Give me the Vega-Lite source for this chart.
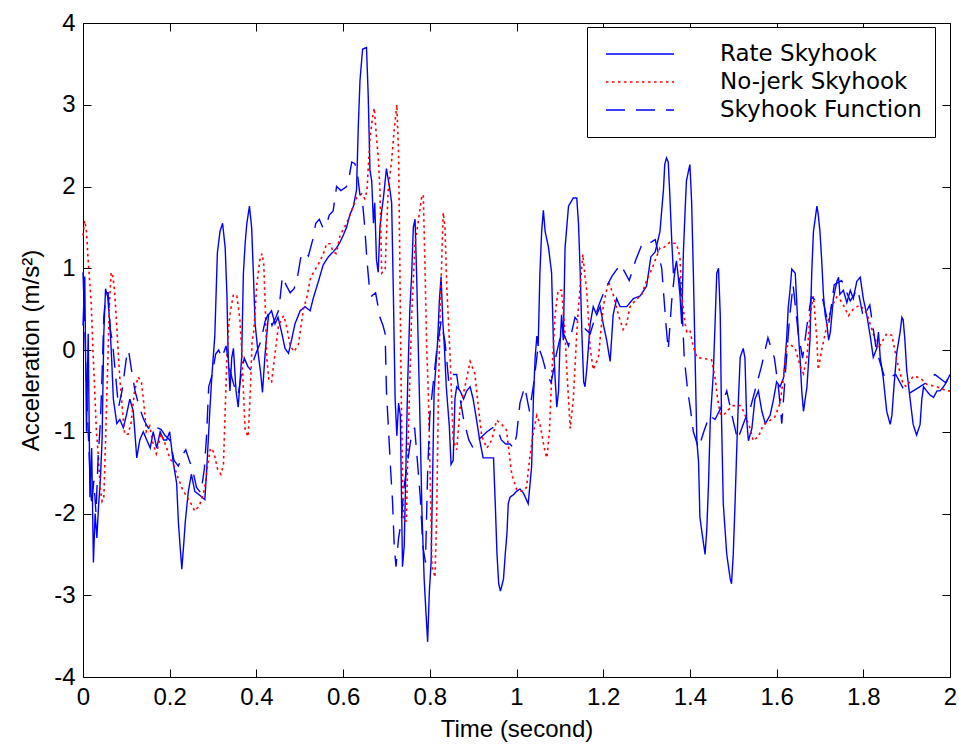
{
"$schema":"https://vega.github.io/schema/vega-lite/v6.json",
"width":867,"height":654,
"autosize":{"type":"none"},
"padding":{"left":83,"top":23,"right":9,"bottom":71},
"background":"white",
"config":{
 "view":{"stroke":"#000","strokeWidth":1},
 "axis":{"grid":false,"labelFont":"Liberation Sans","titleFont":"Liberation Sans","labelFontSize":24,"titleFontSize":24,"titleFontWeight":"normal","labelColor":"#000","titleColor":"#000","tickColor":"#000","domainColor":"#000","tickSize":-8,"labelPadding":16,"labelFlush":false,"labelOverlap":false},
 "legend":{"orient":"none","legendX":504,"legendY":4,"strokeColor":"#000","fillColor":"#fff","padding":13,"symbolType":"stroke","symbolSize":4624,"clipHeight":28,"labelFont":"DejaVu Sans","labelFontSize":23,"labelColor":"#000","labelOffset":45,"rowPadding":0,"symbolStrokeWidth":1.5,"symbolOffset":5,"labelLimit":500}
},
"datasets":{
"rate":[{"t":0,"v":0.3},{"t":0.004,"v":0.9},{"t":0.008,"v":-1.0},{"t":0.012,"v":0.2},{"t":0.016,"v":-1.8},{"t":0.02,"v":-1.2},{"t":0.024,"v":-2.6},{"t":0.028,"v":-2.0},{"t":0.032,"v":-2.3},{"t":0.036,"v":-1.9},{"t":0.04,"v":-1.6},{"t":0.044,"v":-1.1},{"t":0.048,"v":0.2},{"t":0.052,"v":0.75},{"t":0.057,"v":0.65},{"t":0.062,"v":0.32},{"t":0.066,"v":-0.1},{"t":0.07,"v":-0.6},{"t":0.074,"v":-0.75},{"t":0.078,"v":-0.9},{"t":0.085,"v":-0.85},{"t":0.093,"v":-0.95},{"t":0.1,"v":-0.8},{"t":0.108,"v":-0.6},{"t":0.116,"v":-0.75},{"t":0.124,"v":-1.32},{"t":0.131,"v":-1.1},{"t":0.139,"v":-1.0},{"t":0.147,"v":-1.1},{"t":0.155,"v":-1.2},{"t":0.162,"v":-1.0},{"t":0.17,"v":-1.2},{"t":0.178,"v":-1.0},{"t":0.186,"v":-1.1},{"t":0.193,"v":-1.1},{"t":0.2,"v":-1.0},{"t":0.208,"v":-1.37},{"t":0.216,"v":-1.63},{"t":0.22,"v":-2.1},{"t":0.224,"v":-2.4},{"t":0.228,"v":-2.68},{"t":0.232,"v":-2.4},{"t":0.236,"v":-2.1},{"t":0.243,"v":-1.73},{"t":0.25,"v":-1.52},{"t":0.258,"v":-1.73},{"t":0.27,"v":-1.78},{"t":0.281,"v":-1.83},{"t":0.285,"v":-1.5},{"t":0.289,"v":-1.1},{"t":0.293,"v":-0.7},{"t":0.297,"v":-0.34},{"t":0.304,"v":0.17},{"t":0.31,"v":1.19},{"t":0.316,"v":1.45},{"t":0.322,"v":1.55},{"t":0.328,"v":1.25},{"t":0.332,"v":0.68},{"t":0.335,"v":-0.09},{"t":0.339,"v":-0.5},{"t":0.343,"v":-0.1},{"t":0.347,"v":0.02},{"t":0.353,"v":-0.5},{"t":0.358,"v":-0.7},{"t":0.362,"v":-0.4},{"t":0.366,"v":-0.09},{"t":0.37,"v":0.94},{"t":0.374,"v":1.3},{"t":0.378,"v":1.55},{"t":0.384,"v":1.76},{"t":0.389,"v":1.5},{"t":0.393,"v":0.94},{"t":0.397,"v":0.32},{"t":0.404,"v":-0.04},{"t":0.41,"v":-0.29},{"t":0.414,"v":-0.52},{"t":0.42,"v":-0.05},{"t":0.428,"v":0.43},{"t":0.435,"v":0.48},{"t":0.443,"v":0.32},{"t":0.45,"v":0.4},{"t":0.458,"v":0.22},{"t":0.466,"v":0.02},{"t":0.474,"v":-0.04},{"t":0.481,"v":0.12},{"t":0.489,"v":0.32},{"t":0.501,"v":0.48},{"t":0.512,"v":0.53},{"t":0.524,"v":0.48},{"t":0.531,"v":0.63},{"t":0.543,"v":0.84},{"t":0.554,"v":1.04},{"t":0.566,"v":1.14},{"t":0.577,"v":1.2},{"t":0.585,"v":1.25},{"t":0.593,"v":1.32},{"t":0.6,"v":1.4},{"t":0.608,"v":1.5},{"t":0.616,"v":1.66},{"t":0.624,"v":1.76},{"t":0.631,"v":1.96},{"t":0.635,"v":2.73},{"t":0.639,"v":3.3},{"t":0.645,"v":3.68},{"t":0.654,"v":3.7},{"t":0.658,"v":3.1},{"t":0.662,"v":2.2},{"t":0.666,"v":2.07},{"t":0.67,"v":1.55},{"t":0.673,"v":1.8},{"t":0.677,"v":1.1},{"t":0.681,"v":0.95},{"t":0.685,"v":1.5},{"t":0.689,"v":1.7},{"t":0.693,"v":1.86},{"t":0.7,"v":2.22},{"t":0.708,"v":1.96},{"t":0.712,"v":1.8},{"t":0.716,"v":0.68},{"t":0.72,"v":-0.6},{"t":0.724,"v":-1.05},{"t":0.728,"v":-0.65},{"t":0.732,"v":-0.8},{"t":0.737,"v":-2.65},{"t":0.741,"v":-2.4},{"t":0.745,"v":-1.4},{"t":0.749,"v":-0.4},{"t":0.754,"v":0.5},{"t":0.758,"v":0.9},{"t":0.762,"v":1.5},{"t":0.766,"v":1.6},{"t":0.77,"v":0.84},{"t":0.774,"v":-0.1},{"t":0.778,"v":-1.0},{"t":0.782,"v":-2.0},{"t":0.787,"v":-2.8},{"t":0.791,"v":-3.2},{"t":0.795,"v":-3.57},{"t":0.799,"v":-2.95},{"t":0.803,"v":-2.6},{"t":0.806,"v":-1.7},{"t":0.81,"v":-0.5},{"t":0.814,"v":-0.2},{"t":0.818,"v":0.1},{"t":0.822,"v":0.6},{"t":0.826,"v":0.9},{"t":0.83,"v":0.35},{"t":0.834,"v":0.0},{"t":0.838,"v":-0.45},{"t":0.845,"v":-0.93},{"t":0.849,"v":-1.4},{"t":0.854,"v":-1.35},{"t":0.858,"v":-0.6},{"t":0.862,"v":-0.45},{"t":0.87,"v":-0.5},{"t":0.878,"v":-0.6},{"t":0.885,"v":-0.5},{"t":0.893,"v":-0.45},{"t":0.9,"v":-0.6},{"t":0.908,"v":-0.86},{"t":0.915,"v":-1.1},{"t":0.923,"v":-1.32},{"t":0.939,"v":-1.32},{"t":0.947,"v":-1.32},{"t":0.951,"v":-1.88},{"t":0.955,"v":-2.5},{"t":0.959,"v":-2.86},{"t":0.963,"v":-2.95},{"t":0.97,"v":-2.8},{"t":0.974,"v":-2.5},{"t":0.978,"v":-2.24},{"t":0.981,"v":-1.88},{"t":0.985,"v":-1.8},{"t":0.993,"v":-1.77},{"t":1.0,"v":-1.73},{"t":1.008,"v":-1.7},{"t":1.016,"v":-1.75},{"t":1.027,"v":-1.88},{"t":1.035,"v":-1.42},{"t":1.039,"v":-0.6},{"t":1.043,"v":-0.09},{"t":1.047,"v":0.17},{"t":1.05,"v":0.05},{"t":1.054,"v":0.94},{"t":1.058,"v":1.45},{"t":1.062,"v":1.71},{"t":1.066,"v":1.45},{"t":1.074,"v":1.25},{"t":1.081,"v":0.94},{"t":1.085,"v":0.12},{"t":1.089,"v":-0.34},{"t":1.093,"v":-0.7},{"t":1.097,"v":-0.5},{"t":1.1,"v":0.02},{"t":1.104,"v":0.43},{"t":1.108,"v":0.12},{"t":1.112,"v":1.25},{"t":1.12,"v":1.76},{"t":1.131,"v":1.86},{"t":1.139,"v":1.86},{"t":1.143,"v":1.55},{"t":1.147,"v":0.94},{"t":1.151,"v":0.17},{"t":1.155,"v":-0.39},{"t":1.158,"v":-0.45},{"t":1.162,"v":-0.24},{"t":1.17,"v":0.32},{"t":1.177,"v":0.53},{"t":1.185,"v":0.43},{"t":1.193,"v":0.53},{"t":1.2,"v":0.32},{"t":1.208,"v":0.12},{"t":1.216,"v":-0.14},{"t":1.223,"v":0.43},{"t":1.231,"v":0.63},{"t":1.239,"v":0.53},{"t":1.254,"v":0.53},{"t":1.27,"v":0.63},{"t":1.285,"v":0.66},{"t":1.3,"v":0.78},{"t":1.31,"v":1.14},{"t":1.32,"v":1.2},{"t":1.331,"v":1.45},{"t":1.335,"v":1.71},{"t":1.339,"v":1.96},{"t":1.342,"v":2.27},{"t":1.346,"v":2.35},{"t":1.35,"v":2.3},{"t":1.354,"v":1.86},{"t":1.358,"v":1.35},{"t":1.362,"v":0.94},{"t":1.366,"v":1.0},{"t":1.369,"v":1.09},{"t":1.373,"v":0.9},{"t":1.377,"v":0.68},{"t":1.381,"v":0.32},{"t":1.385,"v":1.2},{"t":1.389,"v":1.71},{"t":1.392,"v":2.07},{"t":1.4,"v":2.27},{"t":1.404,"v":1.81},{"t":1.408,"v":0.94},{"t":1.412,"v":-0.09},{"t":1.416,"v":-1.11},{"t":1.42,"v":-1.37},{"t":1.423,"v":-2.04},{"t":1.428,"v":-2.24},{"t":1.435,"v":-2.5},{"t":1.439,"v":-2.19},{"t":1.443,"v":-1.63},{"t":1.447,"v":-0.86},{"t":1.454,"v":-0.29},{"t":1.458,"v":0.32},{"t":1.462,"v":0.94},{"t":1.466,"v":1.0},{"t":1.47,"v":0.43},{"t":1.473,"v":-0.86},{"t":1.477,"v":-1.88},{"t":1.485,"v":-2.5},{"t":1.493,"v":-2.8},{"t":1.496,"v":-2.86},{"t":1.5,"v":-2.5},{"t":1.504,"v":-1.9},{"t":1.508,"v":-1.22},{"t":1.512,"v":-0.6},{"t":1.516,"v":-0.09},{"t":1.523,"v":0.02},{"t":1.527,"v":-0.1},{"t":1.531,"v":-0.86},{"t":1.535,"v":-1.11},{"t":1.543,"v":-0.96},{"t":1.55,"v":-0.6},{"t":1.558,"v":-0.5},{"t":1.566,"v":-0.75},{"t":1.574,"v":-0.9},{"t":1.585,"v":-0.8},{"t":1.593,"v":-0.6},{"t":1.6,"v":-0.39},{"t":1.608,"v":-0.45},{"t":1.616,"v":-0.34},{"t":1.623,"v":0.12},{"t":1.627,"v":0.53},{"t":1.631,"v":0.73},{"t":1.635,"v":0.99},{"t":1.643,"v":0.94},{"t":1.647,"v":0.53},{"t":1.65,"v":0.22},{"t":1.654,"v":-0.09},{"t":1.658,"v":-0.5},{"t":1.662,"v":-0.75},{"t":1.67,"v":-0.45},{"t":1.677,"v":0.12},{"t":1.681,"v":0.94},{"t":1.685,"v":1.45},{"t":1.693,"v":1.76},{"t":1.696,"v":1.66},{"t":1.7,"v":1.45},{"t":1.704,"v":1.1},{"t":1.708,"v":0.68},{"t":1.712,"v":0.43},{"t":1.716,"v":0.32},{"t":1.72,"v":0.12},{"t":1.724,"v":0.22},{"t":1.731,"v":0.63},{"t":1.739,"v":0.84},{"t":1.743,"v":0.89},{"t":1.746,"v":0.68},{"t":1.754,"v":0.73},{"t":1.762,"v":0.58},{"t":1.77,"v":0.73},{"t":1.777,"v":0.63},{"t":1.785,"v":0.84},{"t":1.793,"v":0.89},{"t":1.8,"v":0.63},{"t":1.808,"v":0.43},{"t":1.816,"v":0.17},{"t":1.823,"v":-0.09},{"t":1.831,"v":0.02},{"t":1.835,"v":0.22},{"t":1.839,"v":-0.09},{"t":1.846,"v":-0.34},{"t":1.854,"v":-0.75},{"t":1.862,"v":-0.91},{"t":1.866,"v":-0.8},{"t":1.87,"v":-0.5},{"t":1.877,"v":-0.04},{"t":1.885,"v":0.22},{"t":1.889,"v":0.4},{"t":1.892,"v":0.37},{"t":1.896,"v":0.12},{"t":1.9,"v":-0.24},{"t":1.908,"v":-0.6},{"t":1.915,"v":-0.91},{"t":1.923,"v":-1.04},{"t":1.931,"v":-0.91},{"t":1.935,"v":-0.6},{"t":1.939,"v":-0.45},{"t":1.946,"v":-0.5},{"t":1.954,"v":-0.55},{"t":1.962,"v":-0.58},{"t":1.97,"v":-0.5},{"t":1.977,"v":-0.5},{"t":1.985,"v":-0.45},{"t":1.992,"v":-0.39},{"t":2.0,"v":-0.3}],
"nojerk":[{"t":0,"v":1.4},{"t":0.004,"v":1.58},{"t":0.008,"v":1.45},{"t":0.012,"v":1.1},{"t":0.019,"v":0.57},{"t":0.023,"v":0.0},{"t":0.027,"v":-0.5},{"t":0.031,"v":-1.0},{"t":0.035,"v":-1.27},{"t":0.04,"v":-1.7},{"t":0.044,"v":-1.85},{"t":0.048,"v":-1.8},{"t":0.05,"v":-1.47},{"t":0.054,"v":-0.74},{"t":0.058,"v":0.0},{"t":0.061,"v":0.57},{"t":0.065,"v":0.95},{"t":0.069,"v":0.9},{"t":0.073,"v":0.71},{"t":0.077,"v":0.37},{"t":0.081,"v":0.0},{"t":0.085,"v":-0.35},{"t":0.092,"v":-0.79},{"t":0.096,"v":-1.03},{"t":0.104,"v":-1.03},{"t":0.111,"v":-0.89},{"t":0.119,"v":-0.5},{"t":0.127,"v":-0.33},{"t":0.135,"v":-0.4},{"t":0.142,"v":-0.74},{"t":0.146,"v":-1.0},{"t":0.154,"v":-0.93},{"t":0.161,"v":-1.13},{"t":0.169,"v":-1.27},{"t":0.18,"v":-1.03},{"t":0.192,"v":-1.18},{"t":0.2,"v":-1.32},{"t":0.208,"v":-1.39},{"t":0.219,"v":-1.56},{"t":0.23,"v":-1.71},{"t":0.246,"v":-1.85},{"t":0.258,"v":-1.97},{"t":0.269,"v":-1.9},{"t":0.28,"v":-1.71},{"t":0.288,"v":-1.4},{"t":0.294,"v":-1.2},{"t":0.302,"v":-1.25},{"t":0.31,"v":-1.45},{"t":0.318,"v":-1.52},{"t":0.324,"v":-1.4},{"t":0.328,"v":-0.74},{"t":0.332,"v":-0.1},{"t":0.336,"v":0.3},{"t":0.34,"v":0.47},{"t":0.347,"v":0.68},{"t":0.355,"v":0.66},{"t":0.362,"v":0.37},{"t":0.366,"v":0.0},{"t":0.37,"v":-0.5},{"t":0.374,"v":-0.98},{"t":0.381,"v":-1.06},{"t":0.386,"v":-0.5},{"t":0.39,"v":0.1},{"t":0.394,"v":0.23},{"t":0.401,"v":0.8},{"t":0.408,"v":1.1},{"t":0.413,"v":1.18},{"t":0.417,"v":1.05},{"t":0.42,"v":0.6},{"t":0.424,"v":-0.1},{"t":0.429,"v":-0.38},{"t":0.435,"v":-0.39},{"t":0.444,"v":0.0},{"t":0.451,"v":0.3},{"t":0.463,"v":0.42},{"t":0.47,"v":0.28},{"t":0.478,"v":0.05},{"t":0.487,"v":-0.02},{"t":0.497,"v":0.07},{"t":0.509,"v":0.52},{"t":0.516,"v":0.63},{"t":0.524,"v":0.86},{"t":0.531,"v":0.94},{"t":0.547,"v":1.09},{"t":0.556,"v":1.2},{"t":0.562,"v":1.3},{"t":0.57,"v":1.3},{"t":0.577,"v":1.2},{"t":0.584,"v":1.18},{"t":0.593,"v":1.4},{"t":0.608,"v":1.55},{"t":0.62,"v":1.71},{"t":0.631,"v":1.86},{"t":0.643,"v":1.91},{"t":0.65,"v":1.85},{"t":0.655,"v":1.95},{"t":0.662,"v":2.58},{"t":0.668,"v":2.85},{"t":0.672,"v":2.96},{"t":0.677,"v":2.6},{"t":0.681,"v":2.37},{"t":0.685,"v":1.96},{"t":0.689,"v":0.94},{"t":0.697,"v":0.99},{"t":0.704,"v":1.96},{"t":0.712,"v":2.32},{"t":0.718,"v":2.7},{"t":0.724,"v":3.0},{"t":0.728,"v":2.4},{"t":0.731,"v":1.0},{"t":0.734,"v":-0.5},{"t":0.739,"v":-2.09},{"t":0.746,"v":-2.09},{"t":0.75,"v":-1.1},{"t":0.758,"v":0.4},{"t":0.766,"v":1.3},{"t":0.77,"v":1.45},{"t":0.781,"v":1.86},{"t":0.785,"v":1.9},{"t":0.789,"v":1.0},{"t":0.793,"v":0.0},{"t":0.797,"v":-0.6},{"t":0.801,"v":-1.6},{"t":0.805,"v":-2.65},{"t":0.812,"v":-2.78},{"t":0.816,"v":-2.0},{"t":0.82,"v":-0.5},{"t":0.824,"v":0.5},{"t":0.831,"v":1.68},{"t":0.835,"v":1.5},{"t":0.839,"v":0.8},{"t":0.847,"v":-0.1},{"t":0.854,"v":-1.11},{"t":0.862,"v":-1.22},{"t":0.87,"v":-0.7},{"t":0.881,"v":-0.45},{"t":0.893,"v":-0.14},{"t":0.904,"v":-0.29},{"t":0.912,"v":-0.7},{"t":0.92,"v":-1.06},{"t":0.932,"v":-1.2},{"t":0.943,"v":-1.1},{"t":0.954,"v":-0.86},{"t":0.966,"v":-0.91},{"t":0.977,"v":-0.98},{"t":0.989,"v":-1.52},{"t":1.0,"v":-1.7},{"t":1.007,"v":-1.73},{"t":1.016,"v":-1.72},{"t":1.023,"v":-1.68},{"t":1.031,"v":-1.3},{"t":1.039,"v":-1.0},{"t":1.047,"v":-0.8},{"t":1.054,"v":-0.9},{"t":1.066,"v":-1.25},{"t":1.07,"v":-1.32},{"t":1.076,"v":-1.0},{"t":1.081,"v":-0.34},{"t":1.089,"v":0.43},{"t":1.096,"v":0.73},{"t":1.104,"v":0.73},{"t":1.112,"v":0.2},{"t":1.116,"v":-0.24},{"t":1.124,"v":-0.96},{"t":1.131,"v":-0.6},{"t":1.139,"v":0.2},{"t":1.143,"v":0.53},{"t":1.153,"v":1.17},{"t":1.158,"v":0.9},{"t":1.162,"v":0.73},{"t":1.17,"v":0.02},{"t":1.177,"v":-0.24},{"t":1.189,"v":-0.09},{"t":1.2,"v":0.53},{"t":1.212,"v":0.84},{"t":1.223,"v":0.68},{"t":1.235,"v":0.43},{"t":1.246,"v":0.25},{"t":1.254,"v":0.32},{"t":1.262,"v":0.53},{"t":1.273,"v":0.6},{"t":1.289,"v":0.68},{"t":1.3,"v":0.85},{"t":1.308,"v":0.94},{"t":1.316,"v":1.04},{"t":1.323,"v":1.14},{"t":1.331,"v":1.25},{"t":1.339,"v":1.25},{"t":1.354,"v":1.32},{"t":1.369,"v":1.3},{"t":1.377,"v":1.14},{"t":1.381,"v":0.68},{"t":1.389,"v":0.32},{"t":1.393,"v":0.22},{"t":1.4,"v":0.24},{"t":1.408,"v":0.04},{"t":1.416,"v":-0.09},{"t":1.439,"v":-0.11},{"t":1.45,"v":-0.12},{"t":1.458,"v":-0.34},{"t":1.464,"v":-0.6},{"t":1.47,"v":-0.78},{"t":1.477,"v":-0.8},{"t":1.489,"v":-0.73},{"t":1.5,"v":-0.68},{"t":1.516,"v":-0.68},{"t":1.524,"v":-0.75},{"t":1.539,"v":-0.96},{"t":1.546,"v":-1.11},{"t":1.558,"v":-1.06},{"t":1.57,"v":-0.91},{"t":1.585,"v":-0.86},{"t":1.596,"v":-0.82},{"t":1.608,"v":-0.65},{"t":1.616,"v":-0.34},{"t":1.623,"v":0.04},{"t":1.631,"v":0.07},{"t":1.643,"v":0.02},{"t":1.654,"v":-0.19},{"t":1.662,"v":-0.29},{"t":1.67,"v":-0.09},{"t":1.677,"v":0.43},{"t":1.685,"v":0.66},{"t":1.693,"v":0.12},{"t":1.696,"v":-0.24},{"t":1.704,"v":0.0},{"t":1.716,"v":0.3},{"t":1.727,"v":0.53},{"t":1.739,"v":0.65},{"t":1.746,"v":0.62},{"t":1.754,"v":0.55},{"t":1.766,"v":0.42},{"t":1.777,"v":0.5},{"t":1.792,"v":0.55},{"t":1.808,"v":0.45},{"t":1.823,"v":0.2},{"t":1.835,"v":0.02},{"t":1.854,"v":0.2},{"t":1.866,"v":0.18},{"t":1.877,"v":-0.12},{"t":1.892,"v":-0.42},{"t":1.9,"v":-0.45},{"t":1.915,"v":-0.32},{"t":1.931,"v":-0.34},{"t":1.946,"v":-0.42},{"t":1.97,"v":-0.45},{"t":1.992,"v":-0.5},{"t":2.0,"v":-0.5}],
"func":[{"t":0,"v":0.95},{"t":0.004,"v":0.3},{"t":0.008,"v":-0.5},{"t":0.012,"v":-1.0},{"t":0.016,"v":-1.5},{"t":0.02,"v":-1.9},{"t":0.025,"v":-1.6},{"t":0.03,"v":-2.0},{"t":0.035,"v":-1.3},{"t":0.04,"v":-0.9},{"t":0.044,"v":-0.3},{"t":0.048,"v":0.4},{"t":0.053,"v":0.7},{"t":0.058,"v":0.7},{"t":0.063,"v":0.25},{"t":0.068,"v":0.1},{"t":0.075,"v":-0.3},{"t":0.082,"v":-0.7},{"t":0.09,"v":-0.5},{"t":0.1,"v":-0.1},{"t":0.105,"v":0.0},{"t":0.112,"v":-0.25},{"t":0.12,"v":-0.5},{"t":0.13,"v":-0.7},{"t":0.14,"v":-0.85},{"t":0.15,"v":-0.95},{"t":0.16,"v":-1.0},{"t":0.17,"v":-0.95},{"t":0.18,"v":-0.97},{"t":0.19,"v":-1.05},{"t":0.2,"v":-1.1},{"t":0.21,"v":-1.35},{"t":0.22,"v":-1.42},{"t":0.23,"v":-1.28},{"t":0.237,"v":-1.22},{"t":0.245,"v":-1.35},{"t":0.252,"v":-1.45},{"t":0.262,"v":-1.68},{"t":0.272,"v":-1.75},{"t":0.28,"v":-1.45},{"t":0.285,"v":-1.05},{"t":0.29,"v":-0.45},{"t":0.298,"v":-0.3},{"t":0.306,"v":-0.05},{"t":0.313,"v":0.0},{"t":0.32,"v":-0.1},{"t":0.33,"v":0.05},{"t":0.337,"v":-0.2},{"t":0.344,"v":-0.35},{"t":0.352,"v":-0.5},{"t":0.358,"v":-0.55},{"t":0.365,"v":-0.3},{"t":0.372,"v":-0.1},{"t":0.38,"v":-0.2},{"t":0.388,"v":-0.25},{"t":0.395,"v":-0.1},{"t":0.402,"v":0.0},{"t":0.41,"v":0.1},{"t":0.42,"v":0.35},{"t":0.428,"v":0.45},{"t":0.436,"v":0.3},{"t":0.445,"v":0.4},{"t":0.452,"v":0.5},{"t":0.46,"v":0.9},{"t":0.468,"v":0.8},{"t":0.478,"v":0.7},{"t":0.487,"v":0.75},{"t":0.495,"v":0.9},{"t":0.503,"v":1.15},{"t":0.512,"v":1.2},{"t":0.52,"v":1.15},{"t":0.53,"v":1.35},{"t":0.537,"v":1.55},{"t":0.545,"v":1.6},{"t":0.553,"v":1.5},{"t":0.56,"v":1.5},{"t":0.568,"v":1.65},{"t":0.577,"v":1.7},{"t":0.585,"v":2.0},{"t":0.595,"v":1.95},{"t":0.608,"v":2.0},{"t":0.615,"v":2.15},{"t":0.62,"v":2.3},{"t":0.627,"v":2.28},{"t":0.632,"v":2.2},{"t":0.64,"v":1.85},{"t":0.645,"v":1.8},{"t":0.65,"v":1.5},{"t":0.655,"v":1.1},{"t":0.66,"v":0.8},{"t":0.666,"v":0.66},{"t":0.675,"v":0.7},{"t":0.685,"v":0.4},{"t":0.692,"v":0.3},{"t":0.697,"v":0.2},{"t":0.7,"v":-0.5},{"t":0.705,"v":-1.0},{"t":0.71,"v":-1.5},{"t":0.714,"v":-1.85},{"t":0.718,"v":-2.4},{"t":0.722,"v":-2.65},{"t":0.728,"v":-2.3},{"t":0.734,"v":-2.1},{"t":0.74,"v":-1.7},{"t":0.748,"v":-1.4},{"t":0.756,"v":-1.1},{"t":0.765,"v":-0.95},{"t":0.772,"v":-1.4},{"t":0.778,"v":-1.8},{"t":0.784,"v":-2.4},{"t":0.79,"v":-2.6},{"t":0.795,"v":-1.5},{"t":0.8,"v":-0.8},{"t":0.808,"v":-0.4},{"t":0.816,"v":0.0},{"t":0.826,"v":0.35},{"t":0.835,"v":0.1},{"t":0.844,"v":-0.4},{"t":0.853,"v":-0.3},{"t":0.862,"v":-0.3},{"t":0.87,"v":-0.6},{"t":0.878,"v":-0.85},{"t":0.89,"v":-1.1},{"t":0.9,"v":-1.2},{"t":0.912,"v":-1.1},{"t":0.922,"v":-1.05},{"t":0.932,"v":-1.0},{"t":0.945,"v":-0.95},{"t":0.955,"v":-0.95},{"t":0.965,"v":-1.1},{"t":0.975,"v":-1.15},{"t":0.985,"v":-1.15},{"t":0.993,"v":-1.2},{"t":1.0,"v":-1.05},{"t":1.008,"v":-0.65},{"t":1.019,"v":-0.45},{"t":1.03,"v":-0.75},{"t":1.04,"v":-0.4},{"t":1.05,"v":0.05},{"t":1.06,"v":-0.1},{"t":1.07,"v":-0.3},{"t":1.08,"v":-0.4},{"t":1.092,"v":-0.05},{"t":1.105,"v":0.25},{"t":1.12,"v":0.05},{"t":1.135,"v":0.4},{"t":1.15,"v":0.3},{"t":1.17,"v":0.2},{"t":1.19,"v":0.55},{"t":1.205,"v":0.75},{"t":1.22,"v":0.9},{"t":1.24,"v":1.05},{"t":1.26,"v":0.85},{"t":1.275,"v":1.1},{"t":1.29,"v":1.3},{"t":1.305,"v":1.3},{"t":1.32,"v":1.35},{"t":1.335,"v":1.0},{"t":1.345,"v":0.3},{"t":1.35,"v":0.0},{"t":1.358,"v":0.6},{"t":1.366,"v":1.0},{"t":1.375,"v":0.95},{"t":1.382,"v":0.5},{"t":1.387,"v":-0.1},{"t":1.395,"v":-0.5},{"t":1.402,"v":-0.75},{"t":1.408,"v":-1.0},{"t":1.42,"v":-1.2},{"t":1.432,"v":-1.0},{"t":1.445,"v":-0.8},{"t":1.458,"v":-0.85},{"t":1.472,"v":-0.7},{"t":1.485,"v":-0.5},{"t":1.497,"v":-0.8},{"t":1.51,"v":-1.1},{"t":1.527,"v":-0.85},{"t":1.54,"v":-0.7},{"t":1.55,"v":-0.5},{"t":1.565,"v":-0.2},{"t":1.58,"v":0.15},{"t":1.595,"v":-0.1},{"t":1.605,"v":-0.5},{"t":1.612,"v":-0.9},{"t":1.62,"v":-0.3},{"t":1.63,"v":0.4},{"t":1.638,"v":0.8},{"t":1.65,"v":0.2},{"t":1.66,"v":-0.1},{"t":1.67,"v":0.3},{"t":1.68,"v":0.65},{"t":1.692,"v":0.6},{"t":1.705,"v":0.65},{"t":1.72,"v":0.3},{"t":1.733,"v":0.8},{"t":1.75,"v":0.85},{"t":1.77,"v":0.6},{"t":1.787,"v":0.75},{"t":1.8,"v":0.4},{"t":1.815,"v":0.55},{"t":1.83,"v":0.0},{"t":1.85,"v":-0.35},{"t":1.875,"v":-0.3},{"t":1.9,"v":-0.55},{"t":1.93,"v":-0.45},{"t":1.945,"v":-0.4},{"t":1.965,"v":-0.3},{"t":1.99,"v":-0.4},{"t":2.0,"v":-0.3}]
},
"layer":[
 {"data":{"name":"rate"},"mark":{"type":"line","strokeWidth":1.4},
  "encoding":{
   "x":{"field":"t","type":"quantitative","scale":{"domain":[0,2],"nice":false,"zero":false},"axis":{"title":"Time (second)","values":[0,0.2,0.4,0.6,0.8,1,1.2,1.4,1.6,1.8,2],"labelExpr":"'' + datum.value","titlePadding":8}},
   "y":{"field":"v","type":"quantitative","scale":{"domain":[-4,4],"nice":false,"zero":false},"axis":{"title":"Acceleration (m/s²)","values":[-4,-3,-2,-1,0,1,2,3,4],"labelExpr":"'' + datum.value","titlePadding":10}},
   "color":{"datum":"Rate Skyhook","type":"nominal","scale":{"domain":["Rate Skyhook","No-jerk Skyhook","Skyhook Function"],"range":["#0000ff","#ff0000","#0000ff"]},"legend":{"title":null}},
   "strokeDash":{"datum":"Rate Skyhook","type":"nominal","scale":{"domain":["Rate Skyhook","No-jerk Skyhook","Skyhook Function"],"range":[[1,0],[2.5,3.5],[19,11]]},"legend":{"title":null}}
  }},
 {"data":{"name":"nojerk"},"mark":{"type":"line","strokeWidth":1.6},
  "encoding":{
   "x":{"field":"t","type":"quantitative","axis":{"orient":"top","labels":false,"title":null,"domain":false,"values":[0,0.2,0.4,0.6,0.8,1,1.2,1.4,1.6,1.8,2]}},
   "y":{"field":"v","type":"quantitative","axis":{"orient":"right","labels":false,"title":null,"domain":false,"values":[-4,-3,-2,-1,0,1,2,3,4]}},
   "color":{"datum":"No-jerk Skyhook","type":"nominal"},
   "strokeDash":{"datum":"No-jerk Skyhook","type":"nominal"}
  }},
 {"data":{"name":"func"},"mark":{"type":"line","strokeWidth":1.4},
  "encoding":{
   "x":{"field":"t","type":"quantitative","axis":null},
   "y":{"field":"v","type":"quantitative","axis":null},
   "color":{"datum":"Skyhook Function","type":"nominal"},
   "strokeDash":{"datum":"Skyhook Function","type":"nominal"}
  }}
],
"resolve":{"axis":{"x":"independent","y":"independent"}}
}
